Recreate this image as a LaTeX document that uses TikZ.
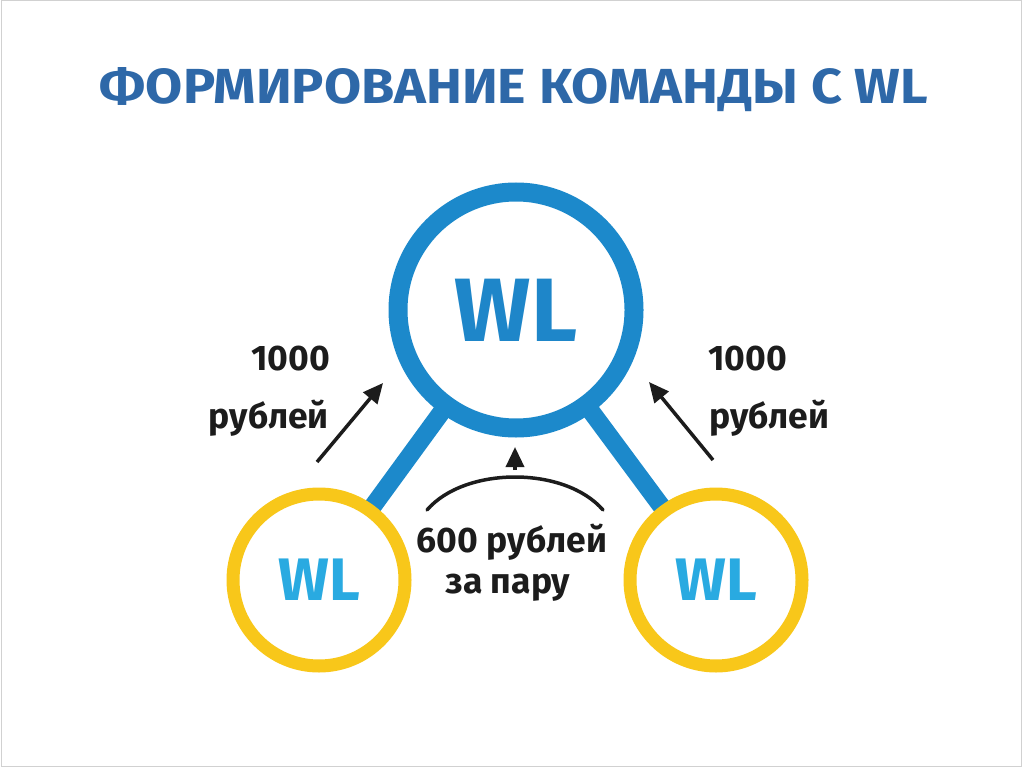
\documentclass[tikz,border=0pt]{standalone}
\usepackage{fontspec}
\setmainfont{Fira Sans}
\usetikzlibrary{arrows.meta,backgrounds}
\definecolor{titleblue}{RGB}{46,104,168}
\definecolor{ringblue}{RGB}{28,137,203}
\definecolor{wlblue}{RGB}{30,134,201}
\definecolor{lightblue}{RGB}{41,170,225}
\definecolor{ringyellow}{RGB}{248,199,26}
\definecolor{ink}{RGB}{28,28,28}
\begin{document}
\begin{tikzpicture}[x=1pt,y=-1pt,
  bigring/.style={circle,draw=ringblue,line width=19pt,fill=white,minimum size=236pt,inner sep=0pt,text=wlblue,font=\fontsize{90}{90}\selectfont\bfseries},
  smallring/.style={circle,draw=ringyellow,line width=13pt,fill=white,minimum size=172pt,inner sep=0pt,text=lightblue,font=\fontsize{60}{60}\selectfont\bfseries},
  link/.style={draw=ringblue,line width=18pt},
  money/.style={draw=ink,line width=3.5pt,-{Triangle[length=20pt,width=18pt]}},
  amount/.style={text=ink,inner sep=0pt,font=\fontsize{35.5}{35.5}\selectfont\bfseries}
]
\useasboundingbox (0,0) rectangle (1024,767);
\draw[black!18,line width=1pt] (1,1) rectangle (1021,766);

% title
\node[anchor=base,inner sep=0pt,text=titleblue] (title) at (514,104)
  {\resizebox{828pt}{36pt}{\bfseries ФОРМИРОВАНИЕ КОМАНДЫ С WL}};

% circles
\node[bigring] (big) at (516,310) {WL};
\node[smallring] (left) at (319,580) {WL};
\node[smallring] (right) at (716,580) {WL};

\begin{pgfonlayer}{background}
  \draw[link] (big.center) -- (left.center);
  \draw[link] (big.center) -- (right.center);
\end{pgfonlayer}

% side arrows
\coordinate (ltail) at (317,462);
\coordinate (ltip) at (383,383);
\coordinate (rtail) at (713,460);
\coordinate (rtip) at (649,382);
\draw[money] (ltail) -- (ltip);
\draw[money] (rtail) -- (rtip);

% labels
\node[amount,anchor=base east] (l1000) at (330,370) {1000};
\node[amount,anchor=base east] (lrub) at (329,428) {рублей};
\node[amount,anchor=base west] (r1000) at (708,370) {1000};
\node[amount,anchor=base west] (rrub) at (709,428) {рублей};

% pair arc
\coordinate (arcl) at (427,510);
\coordinate (arcr) at (603,510);
\coordinate (arctop) at (515,470);
\coordinate (arctip) at (515,447);
\draw[ink,line width=3.5pt,line cap=round] (arcl) .. controls (465,466) and (565,466) .. (arcr);
\draw[money] (arctop) -- (arctip);

\node[amount,anchor=base] (pair1) at (512,552) {600 рублей};
\node[amount,anchor=base] (pair2) at (508,593) {за пару};
\end{tikzpicture}
\end{document}
